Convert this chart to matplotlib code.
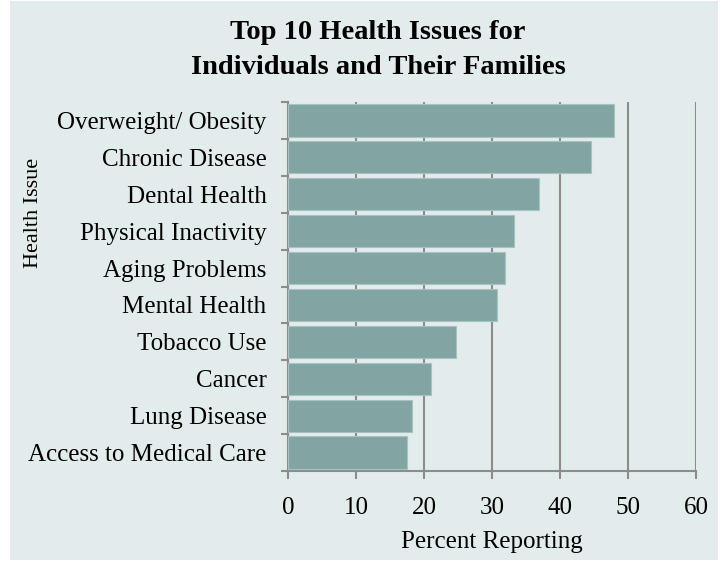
import matplotlib
matplotlib.use("Agg")
import matplotlib.pyplot as plt
from matplotlib.patches import Rectangle

plt.rcParams['font.family'] = ['Liberation Serif', 'DejaVu Serif']

issues = ["Overweight/ Obesity", "Chronic Disease", "Dental Health",
          "Physical Inactivity", "Aging Problems", "Mental Health",
          "Tobacco Use", "Cancer", "Lung Disease", "Access to Medical Care"]
percent = [47.9, 44.6, 36.9, 33.3, 31.9, 30.8, 24.7, 21.1, 18.3, 17.5]
xticks = [0, 10, 20, 30, 40, 50, 60]

bg = "#e3ecec"
bar_color = "#82a5a3"
grid_color = "#8c8c8c"

fig = plt.figure(figsize=(7.26, 5.62), dpi=100, facecolor="white")
fig.patches.append(Rectangle((10 / 726, 1 - 560 / 562), 708 / 726, 559 / 562,
                             transform=fig.transFigure, facecolor=bg,
                             edgecolor="none", zorder=-10))

ax = fig.add_axes([288 / 726, 1 - 471 / 562, 408 / 726, 369 / 562])
ax.set_facecolor(bg)

pos = list(range(len(issues)))
ax.barh(pos, percent, height=0.87, color=bar_color, edgecolor="#a9c1bf",
        linewidth=0.8, zorder=3)
ax.set_ylim(len(issues) - 0.5, -0.5)
ax.set_xlim(0, 60)

ax.set_yticks(pos)
ax.set_yticklabels(issues, fontsize=18)
ax.set_yticks([p - 0.5 for p in pos] + [len(issues) - 0.5], minor=True)
ax.tick_params(axis="y", which="major", length=0, pad=15.5)
ax.tick_params(axis="y", which="minor", length=5, width=1.5, color=grid_color)

ax.set_xticks(xticks)
ax.set_xticklabels([str(t) for t in xticks], fontsize=18)
ax.tick_params(axis="x", length=5.5, width=1.5, color=grid_color, pad=13)

ax.grid(axis="x", color=grid_color, linewidth=1.5, zorder=0)
ax.set_axisbelow(True)

for s in ["top", "right"]:
    ax.spines[s].set_visible(False)
for s in ["left", "bottom"]:
    ax.spines[s].set_color(grid_color)
    ax.spines[s].set_linewidth(1.5)

ax.set_xlabel("Percent Reporting", fontsize=18, labelpad=9)
fig.text(33 / 726, 1 - 213 / 562, "Health Issue", rotation=90, fontsize=16,
         ha="center", va="center")

fig.text(378 / 726, 1 - 50 / 562, "Top 10 Health Issues for\nIndividuals and Their Families",
         fontsize=20.5, fontweight="bold", ha="center", va="center",
         linespacing=1.55)

fig.savefig("out.png", dpi=100, facecolor="white")
